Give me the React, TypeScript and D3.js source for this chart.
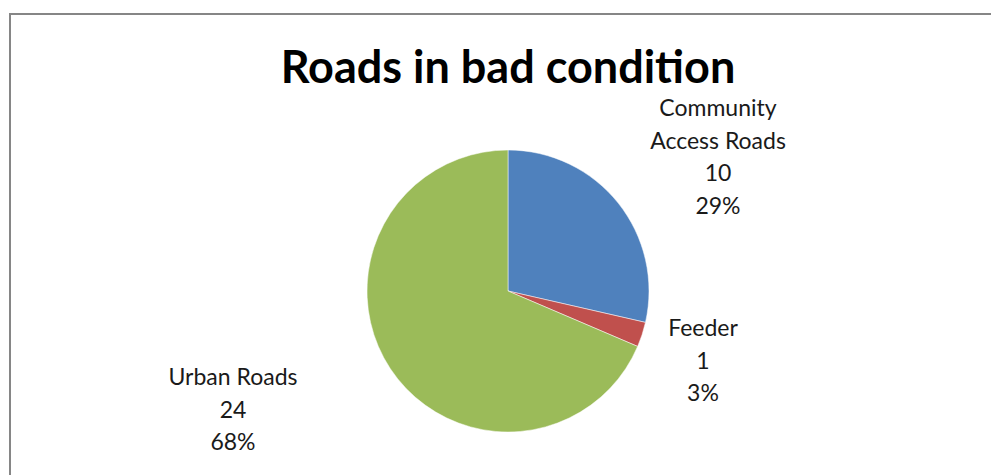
import React from "react";
import * as d3 from "d3";

const categories = ["Community Access Roads", "Feeder", "Urban Roads"];
const values = [10, 1, 24];
const percentLabels = ["29%", "3%", "68%"];
const labelLines = [["Community", "Access Roads"], ["Feeder"], ["Urban Roads"]];
const colors = ["#4F81BD", "#C0504D", "#9BBB59"];
const title = "Roads in bad condition";

const W = 991;
const H = 475;
const cx = 508;
const cy = 291;
const R = 141;
// label centers (x, y of first line center)
const labelPos = [
  [718, 107],
  [703, 327],
  [233, 376],
];
const lineH = 32.5;

export default function App() {
  const pie = d3.pie<number>().sort(null).value((d) => d)(values);
  const arc = d3.arc<d3.PieArcDatum<number>>().innerRadius(0).outerRadius(R);
  return (
    <svg
      width={W}
      height={H}
      style={{ position: "absolute", left: 0, top: 0, background: "#fff" }}
    >
      <rect x={10} y={14} width={1000} height={500} fill="#fff" stroke="#868686" strokeWidth={2} />
      <text
        x={508}
        y={83}
        textAnchor="middle"
        fontFamily="Lato, 'Open Sans', sans-serif"
        fontWeight="bold"
        fontSize={45}
        fill="#000"
      >
        {title}
      </text>
      <g transform={`translate(${cx},${cy})`}>
        {pie.map((p, i) => (
          <path key={categories[i]} d={arc(p) || ""} fill={colors[i]} stroke="#fff" strokeWidth={0.5} />
        ))}
      </g>
      {categories.map((c, i) => {
        const lines = [...labelLines[i], String(values[i]), percentLabels[i]];
        const [lx, ly] = labelPos[i];
        return (
          <text
            key={c}
            textAnchor="middle"
            fontFamily="Lato, 'Open Sans', sans-serif"
            fontSize={23}
            fill="#1a1a1a"
          >
            {lines.map((t, j) => (
              <tspan key={j} x={lx} y={ly + j * lineH} dominantBaseline="central">
                {t}
              </tspan>
            ))}
          </text>
        );
      })}
    </svg>
  );
}
